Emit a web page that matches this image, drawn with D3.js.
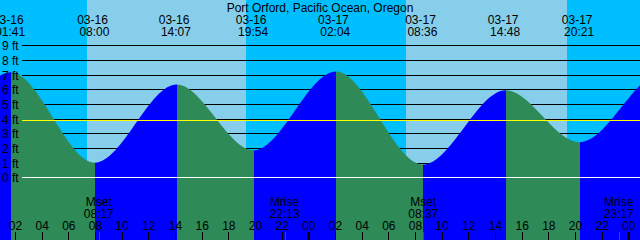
<!DOCTYPE html>
<html><head><meta charset="utf-8">
<script src="https://cdn.jsdelivr.net/npm/d3@7"></script>
<style>
html,body{margin:0;padding:0;background:#fff;overflow:hidden;}
svg{display:block;}
text{font-family:"Liberation Sans",Arial,sans-serif;font-size:12px;fill:#000;}
</style>
</head><body>
<svg id="chart" width="640" height="240"></svg>
<script>
// ---------------- data ----------------
const chartTitle = "Port Orford, Pacific Ocean, Oregon";
const windowStart = "2024-03-16 00:52:30";
const windowEnd   = "2024-03-18 00:52:30";
// tide extremes (the first two and last two lie outside the window)
const tideTimes   = ["2024-03-15 13:25","2024-03-15 19:20","2024-03-16 01:41","2024-03-16 08:00","2024-03-16 14:07","2024-03-16 19:54",
                     "2024-03-17 02:04","2024-03-17 08:36","2024-03-17 14:48","2024-03-17 20:21","2024-03-18 02:40","2024-03-18 09:10"];
const tideHeights = [6.5, 2.0, 7.14, 0.97, 6.3, 1.82, 7.2, 0.85, 5.92, 2.37, 7.2, 0.8];
const sunTimes = ["2024-03-16 07:24","2024-03-16 19:20","2024-03-17 07:20","2024-03-17 19:22"];
const sunKinds = ["rise","set","rise","set"];
const moonTimes  = ["2024-03-16 08:17","2024-03-16 22:13","2024-03-17 08:37","2024-03-17 23:17"];
const moonLabels = ["Mset","Mrise","Mset","Mrise"];
const depthLevels = [0,1,2,3,4,5,6,7,8,9];
const depthLabels = ["0 ft","1 ft","2 ft","3 ft","4 ft","5 ft","6 ft","7 ft","8 ft","9 ft"];
const meanSeaLevel = 3.9;

// ---------------- colours ----------------
const C = {day:"#87CEEB", night:"#00BFFF", flood:"#0000FF", ebb:"#2E8B57",
           datum:"#FFFFFF", msl:"#FFFF00", mark:"#FF0000", fg:"#000000"};

const W = 640, H = 240;
const p  = d3.utcParse("%Y-%m-%d %H:%M");
const pS = d3.utcParse("%Y-%m-%d %H:%M:%S");
const t0 = pS(windowStart), t1 = pS(windowEnd);

const x = d3.scaleUtc().domain([t0, t1]).range([0, W]);
const y = d3.scaleLinear().domain([0, 9]).range([177, 45]);
const rowY = h => Math.ceil(y(h)) + 0.5;

const svg = d3.select("#chart");

// ---------------- sky (day / night) ----------------
const bounds = [t0, ...sunTimes.map(p), t1];
const sky = [];
for (let i = 0; i < bounds.length - 1; i++) {
  const isDay = i > 0 && sunKinds[i - 1] === "rise";
  sky.push({a: bounds[i], b: bounds[i + 1], c: isDay ? C.day : C.night});
}
svg.append("g").selectAll("rect").data(sky).join("rect")
  .attr("x", d => x(d.a)).attr("y", 0)
  .attr("width", d => x(d.b) - x(d.a)).attr("height", H)
  .attr("fill", d => d.c).attr("shape-rendering", "crispEdges");

// ---------------- depth lines (behind the water) ----------------
svg.append("g").selectAll("line").data(depthLevels.filter(d => d > 0)).join("line")
  .attr("x1", 22).attr("x2", W)
  .attr("y1", d => rowY(d)).attr("y2", d => rowY(d))
  .attr("stroke", C.fg).attr("stroke-width", 1).attr("shape-rendering", "crispEdges");

// ---------------- water ----------------
const tide = tideTimes.map((t, i) => ({t: p(t), h: tideHeights[i]}));
const area = d3.area().x(d => x(d.t)).y0(H).y1(d => y(d.h)).curve(d3.curveMonotoneX);
svg.append("clipPath").attr("id", "water").append("path").attr("d", area(tide));
const segs = [];
for (let i = 0; i < tide.length - 1; i++) {
  segs.push({a: tide[i].t, b: tide[i + 1].t, c: tide[i + 1].h > tide[i].h ? C.flood : C.ebb});
}
svg.append("g").attr("clip-path", "url(#water)").selectAll("rect").data(segs).join("rect")
  .attr("x", d => x(d.a)).attr("y", 0)
  .attr("width", d => x(d.b) - x(d.a)).attr("height", H)
  .attr("fill", d => d.c).attr("shape-rendering", "crispEdges");

// ---------------- datum and mean sea level ----------------
svg.append("line").attr("x1", 22).attr("x2", W)
  .attr("y1", rowY(meanSeaLevel)).attr("y2", rowY(meanSeaLevel))
  .attr("stroke", C.msl).attr("shape-rendering", "crispEdges");
svg.append("line").attr("x1", 22).attr("x2", W)
  .attr("y1", rowY(0)).attr("y2", rowY(0))
  .attr("stroke", C.datum).attr("shape-rendering", "crispEdges");

// ---------------- depth labels ----------------
svg.append("g").selectAll("text").data(depthLevels).join("text")
  .attr("x", 2).attr("y", d => rowY(d) + 4.5)
  .text((d, i) => depthLabels[i]);

// ---------------- title and tide event labels ----------------
svg.append("text").attr("x", W / 2).attr("y", 12).attr("text-anchor", "middle").text(chartTitle);
const shown = tide.filter(d => d.t >= t0 && d.t <= t1);
const fDate = d3.utcFormat("%m-%d"), fTime = d3.utcFormat("%H:%M");
const tideLbl = svg.append("g").selectAll("g").data(shown).join("g");
tideLbl.append("text").attr("x", d => x(d.t) - 2.5).attr("y", 24).attr("text-anchor", "middle").text(d => fDate(d.t));
tideLbl.append("text").attr("x", d => x(d.t) - 0.6).attr("y", 36).attr("text-anchor", "middle").text(d => fTime(d.t));

// ---------------- hour axis ----------------
const axis = d3.axisTop(x).ticks(d3.utcHour.every(2)).tickFormat(d3.utcFormat("%H"))
  .tickSize(8).tickPadding(2);
const ax = svg.append("g").attr("transform", `translate(0,${H})`).call(axis);
ax.select(".domain").remove();
ax.attr("font-family", null).attr("font-size", null);
ax.selectAll(".tick line").attr("stroke", C.fg).attr("shape-rendering", "crispEdges")
  .attr("stroke-width", d => d.getUTCHours() === 0 ? 3 : 1);
ax.selectAll(".tick text").attr("fill", C.fg);

// ---------------- moon events ----------------
const moon = moonTimes.map((t, i) => ({t: p(t), l: moonLabels[i]}));
svg.append("g").selectAll("line").data(moon).join("line")
  .attr("x1", d => Math.round(x(d.t)) + 0.5).attr("x2", d => Math.round(x(d.t)) + 0.5)
  .attr("y1", 232).attr("y2", H)
  .attr("stroke", C.mark).attr("shape-rendering", "crispEdges");
const ml = svg.append("g").selectAll("g").data(moon).join("g");
ml.append("text").attr("x", d => x(d.t)).attr("y", 206).attr("text-anchor", "middle").text(d => d.l);
ml.append("text").attr("x", d => x(d.t)).attr("y", 218).attr("text-anchor", "middle").text(d => fTime(d.t));
</script>
</body></html>
